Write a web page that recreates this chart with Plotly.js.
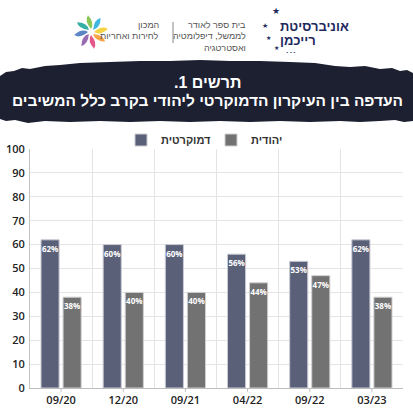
<!DOCTYPE html>
<html>
<head>
<meta charset="utf-8">
<script src="https://cdn.plot.ly/plotly-3.0.1.min.js"></script>
<style>html,body{margin:0;padding:0;background:#fff;}#chart{width:413px;height:412px;}</style>
</head>
<body>
<div id="chart"></div>
<script>
// ---- data ----
const categories = ['09/20', '12/20', '09/21', '04/22', '09/22', '03/23'];
const democratic = [62, 60, 60, 56, 53, 62];
const jewish = [38, 40, 40, 44, 47, 38];
const seriesNames = ['דמוקרטית', 'יהודית'];
const titleLine1 = 'תרשים 1.';
const titleLine2 = 'העדפה בין העיקרון הדמוקרטי ליהודי בקרב כלל המשיבים';
const uniLines = ['אוניברסיטת', 'רייכמן'];
const schoolLines = ['בית ספר לאודר', 'לממשל, דיפלומטיה', 'ואסטרטגיה'];
const instituteLines = ['המכון', 'לחירות ואחריות'];
const yTicks = [0, 10, 20, 30, 40, 50, 60, 70, 80, 90, 100];

// ---- layout geometry (pixels) ----
const W = 413, H = 412;
const M = {l: 30, r: 10, t: 149, b: 24};
const PW = W - M.l - M.r, PH = H - M.t - M.b;
const px = x => (x - M.l) / PW;
const py = y => (H - M.b - y) / PH;
const RLM = '\u200F';
const HEB = 'Liberation Sans, DejaVu Sans, Arial, sans-serif';

const shapes = [];
const annotations = [];

// banner (ragged dark band)
const bannerTop = [[0,76],[6,72],[14,71],[22,68],[30,69],[45,66],[60,65],[80,63],[110,62],[140,61],[170,61],[200,60],[230,61],[260,61],[290,62],[315,63],[335,66],[350,67],[365,66],[380,69],[392,68],[400,71],[407,70],[413,73]];
const bannerBot = [[413,121],[404,122],[395,120],[380,121],[360,122],[340,121],[310,122],[280,121],[250,122],[220,121],[190,122],[160,121],[130,122],[100,121],[70,122],[45,121],[28,123],[15,120],[6,121],[0,119]];
const bannerPts = bannerTop.concat(bannerBot);
shapes.push({
  type: 'path', xref: 'paper', yref: 'paper', layer: 'below',
  path: 'M ' + bannerPts.map(p => px(p[0]).toFixed(4) + ',' + py(p[1]).toFixed(4)).join(' L ') + ' Z',
  fillcolor: '#1d2031', line: {width: 0}
});

// flower logo
const fc = [91, 32];
const petalColors = ['#f4cf2c', '#2eaee0', '#7dc242', '#1fa59c', '#4a78c0', '#8e5aa8', '#e2457c', '#f59a34'];
petalColors.forEach((col, i) => {
  const a = (i * 45) * Math.PI / 180;
  const P = (r, ang) => [fc[0] + r * Math.cos(ang), fc[1] - r * Math.sin(ang)];
  const base = P(3, a), tip = P(17, a + 0.18);
  const c1 = P(13, a + 0.55), c2 = P(10, a - 0.4);
  const f = p => px(p[0]).toFixed(4) + ',' + py(p[1]).toFixed(4);
  shapes.push({type: 'path', xref: 'paper', yref: 'paper',
    path: 'M ' + f(base) + ' Q ' + f(c1) + ' ' + f(tip) + ' Q ' + f(c2) + ' ' + f(base) + ' Z',
    fillcolor: col, line: {width: 0}, opacity: 0.9});
});

// separator
shapes.push({type: 'line', xref: 'paper', yref: 'paper', x0: px(173), x1: px(173), y0: py(22), y1: py(43), line: {color: '#888', width: 1}});

// center tick marks on x axis
categories.forEach(c => shapes.push({type: 'line', xref: 'x', yref: 'paper', x0: c, x1: c, y0: 0, y1: -0.016, line: {color: '#bdbdbd', width: 1}}));

function addText(text, x, y, opts) {
  annotations.push(Object.assign({
    text: text, xref: 'paper', yref: 'paper', x: px(x), y: py(y),
    showarrow: false, xanchor: 'right', yanchor: 'middle'
  }, opts));
}

// university text
uniLines.forEach((t, i) => addText(t, 278, 26.5 + i * 14.5, {xanchor: 'left', font: {family: HEB, size: 13, color: '#1e2a5e', weight: 'bold'}}));
// stars
[[276,11,9],[265,26,7],[268,37,6],[276,47,6]].forEach(s => addText('★', s[0], s[1], {xanchor: 'center', font: {family: 'DejaVu Sans', size: s[2], color: '#1e2a5e'}}));
addText('• • •', 291, 52, {xanchor: 'center', font: {family: 'DejaVu Sans', size: 4, color: '#1e2a5e'}});
// school text
schoolLines.forEach((t, i) => addText(t, 248, 25 + i * 11.5, {font: {family: HEB, size: 9, color: '#555'}}));
// institute text
instituteLines.forEach((t, i) => addText(t, 161, 25 + i * 11.5, {font: {family: HEB, size: 9, color: '#555'}}));
// title lines
addText(RLM + titleLine1 + RLM, 207, 82, {xanchor: 'center', font: {family: HEB, size: 16, color: '#ffffff', weight: 'bold'}});
addText(RLM + titleLine2 + RLM, 207, 101, {xanchor: 'center', font: {family: HEB, size: 15.5, color: '#ffffff', weight: 'bold'}});

const labelFont = {family: 'Open Sans, DejaVu Sans, sans-serif', size: 8, color: '#ffffff', weight: 'bold'};
const traces = [
  {type: 'bar', name: seriesNames[0], x: categories, y: democratic, legend: 'legend',
   marker: {color: '#5b6079', line: {color: '#c9cbd3', width: 1}},
   texttemplate: '%{y}%', textposition: 'inside', insidetextanchor: 'end', textangle: 0,
   constraintext: 'none', textfont: labelFont, hoverinfo: 'skip'},
  {type: 'bar', name: seriesNames[1], x: categories, y: jewish, legend: 'legend2',
   marker: {color: '#727272', line: {color: '#cfcfcf', width: 1}},
   texttemplate: '%{y}%', textposition: 'inside', insidetextanchor: 'end', textangle: 0,
   constraintext: 'none', textfont: labelFont, hoverinfo: 'skip'}
];

const legendFont = {family: HEB, size: 11, color: '#333', weight: 'bold'};
const tickFont = {family: 'Open Sans, DejaVu Sans, sans-serif', size: 11, color: '#222', weight: 600};
const layout = {
  width: W, height: H, margin: M,
  paper_bgcolor: '#ffffff', plot_bgcolor: '#ffffff',
  barmode: 'group', bargap: 0.29, bargroupgap: 0.18,
  showlegend: true,
  legend: {orientation: 'h', x: px(121), xanchor: 'left', y: py(140), yanchor: 'middle',
    font: legendFont, itemwidth: 30, bgcolor: 'rgba(0,0,0,0)'},
  legend2: {orientation: 'h', x: px(211), xanchor: 'left', y: py(140), yanchor: 'middle',
    font: legendFont, itemwidth: 30, bgcolor: 'rgba(0,0,0,0)'},
  xaxis: {type: 'category', tickson: 'boundaries', showgrid: true, gridcolor: '#e4e4e4', gridwidth: 1,
    showline: true, linecolor: '#bdbdbd', ticks: '', tickfont: tickFont, ticklabelstandoff: 2, fixedrange: true},
  yaxis: {range: [0, 100], tickvals: yTicks, showgrid: true, gridcolor: '#e4e4e4', gridwidth: 1,
    showline: true, linecolor: '#c4c4c4', ticks: '', tickfont: tickFont, ticklabelstandoff: 2, zeroline: false, fixedrange: true},
  shapes: shapes,
  annotations: annotations
};

Plotly.newPlot('chart', traces, layout, {displayModeBar: false, staticPlot: true});
</script>
</body>
</html>
